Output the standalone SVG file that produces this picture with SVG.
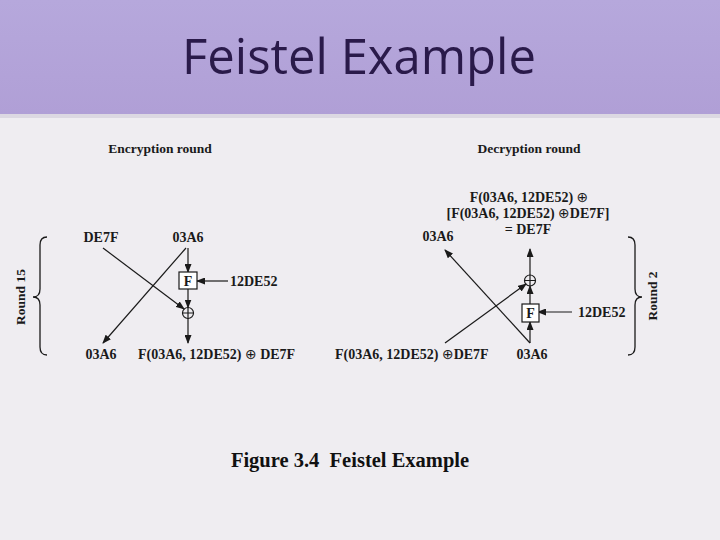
<svg xmlns="http://www.w3.org/2000/svg" width="720" height="540" viewBox="0 0 720 540">
<defs>
<marker id="ah" markerUnits="userSpaceOnUse" markerWidth="9" markerHeight="7" refX="8" refY="3.5" orient="auto">
<path d="M0,0 L9,3.5 L0,7 z" fill="#1a1a1a"/>
</marker>
<linearGradient id="band" x1="0" y1="0" x2="0" y2="1">
<stop offset="0" stop-color="#b6a8dc"/>
<stop offset="1" stop-color="#b09fd6"/>
</linearGradient>
</defs>
<style>
.t{font-family:"Liberation Serif","Times New Roman",serif;font-weight:bold;font-size:14px;fill:#1a1a1a}
.h{font-family:"Liberation Serif","Times New Roman",serif;font-weight:bold;font-size:13.5px;fill:#1a1a1a}
.x{font-family:"DejaVu Sans",sans-serif;font-weight:normal;font-size:14px}
.c{stroke:#1a1a1a;stroke-width:1.2;fill:none}
.a{marker-end:url(#ah)}
.box{fill:#fff;stroke:#1a1a1a;stroke-width:1.2}
.brace{fill:none;stroke:#1a1a1a;stroke-width:1.3}
</style>
<rect x="0" y="0" width="720" height="540" fill="#efedf1"/>
<rect x="0" y="0" width="720" height="114" fill="url(#band)"/>
<rect x="0" y="114" width="720" height="4" fill="#dcd8e2"/>
<text x="359" y="74" text-anchor="middle" font-family="'Open Sans','Noto Sans',sans-serif" font-size="49" fill="#2a1a4a">Feistel Example</text>

<g id="connectors">
<line class="c a" x1="188" y1="248" x2="188" y2="272"/>
<line class="c a" x1="228" y1="281" x2="197" y2="281" stroke-width="1.8"/>
<line class="c a" x1="188" y1="289" x2="188" y2="307.5"/>
<line class="c a" x1="188" y1="318.5" x2="188" y2="343"/>
<line class="c a" x1="103" y1="248" x2="184" y2="309"/>
<line class="c a" x1="186" y1="248" x2="103" y2="343"/>

<line class="c a" x1="530" y1="343" x2="530" y2="322"/>
<line class="c a" x1="572" y1="312" x2="538" y2="312"/>
<line class="c a" x1="530" y1="304" x2="530" y2="286"/>
<line class="c a" x1="530" y1="275" x2="530" y2="249"/>
<line class="c a" x1="530" y1="343" x2="445" y2="250"/>
<line class="c a" x1="445" y1="343" x2="526" y2="284"/>
</g>

<g id="enc-title"><text class="h" x="160" y="153" text-anchor="middle">Encryption round</text></g>
<g id="enc-L"><text class="t" x="101" y="242" text-anchor="middle">DE7F</text></g>
<g id="enc-R"><text class="t" x="188" y="242" text-anchor="middle">03A6</text></g>
<g id="enc-F"><rect class="box" x="179" y="272" width="18" height="17"/><text class="t" x="188" y="285.5" text-anchor="middle">F</text></g>
<g id="enc-K"><text class="t" x="230" y="285.5">12DE52</text></g>
<g id="enc-xor"><circle class="c" cx="188" cy="313" r="5.5" fill="#fff"/><path class="c" d="M182.5,313 H193.5 M188,307.5 V318.5"/></g>
<g id="enc-outL"><text class="t" x="101" y="359" text-anchor="middle">03A6</text></g>
<g id="enc-outR"><text class="t" x="138" y="359">F(03A6, 12DE52) <tspan class="x">⊕</tspan> DE7F</text></g>
<g id="enc-brace"><path class="brace" d="M47,237 Q40,237 40,245 L40,289 Q40,297 33,297 Q40,297 40,305 L40,347 Q40,355 47,355"/>
<text class="h" transform="translate(25,297) rotate(-90)" text-anchor="middle">Round 15</text></g>

<g id="dec-title"><text class="h" x="529" y="153" text-anchor="middle">Decryption round</text></g>
<g id="dec-out"><text class="t" x="529" y="202" text-anchor="middle">F(03A6, 12DE52) <tspan class="x">⊕</tspan></text>
<text class="t" x="528" y="218" text-anchor="middle">[F(03A6, 12DE52) <tspan class="x">⊕</tspan>DE7F]</text>
<text class="t" x="528" y="234" text-anchor="middle">= DE7F</text></g>
<g id="dec-outL"><text class="t" x="438" y="241" text-anchor="middle">03A6</text></g>
<g id="dec-xor"><circle class="c" cx="530" cy="280.5" r="5.5" fill="#fff"/><path class="c" d="M524.5,280.5 H535.5 M530,275 V286"/></g>
<g id="dec-F"><rect class="box" x="522" y="304" width="17" height="18"/><text class="t" x="530.5" y="317.5" text-anchor="middle">F</text></g>
<g id="dec-K"><text class="t" x="578" y="317">12DE52</text></g>
<g id="dec-inL"><text class="t" x="335" y="359">F(03A6, 12DE52) <tspan class="x">⊕</tspan>DE7F</text></g>
<g id="dec-inR"><text class="t" x="532" y="359" text-anchor="middle">03A6</text></g>
<g id="dec-brace"><path class="brace" d="M628,237 Q635,237 635,245 L635,289 Q635,297 642,297 Q635,297 635,305 L635,347 Q635,355 628,355"/>
<text class="h" transform="translate(657,296) rotate(-90)" text-anchor="middle">Round 2</text></g>

<g id="caption"><text x="350" y="467" text-anchor="middle" font-family="'Liberation Serif','Times New Roman',serif" font-weight="bold" font-size="20.5" fill="#111">Figure 3.4&#160; Feistel Example</text></g>
</svg>
